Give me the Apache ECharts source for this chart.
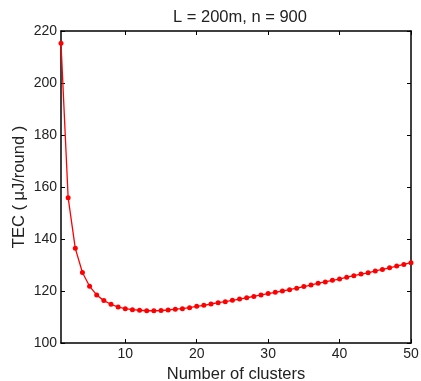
<!DOCTYPE html>
<html>
<head>
<meta charset="utf-8">
<script src="https://cdn.jsdelivr.net/npm/echarts@6/dist/echarts.min.js"></script>
<style>
  html, body { margin: 0; padding: 0; background: #fff; }
  #chart { width: 421px; height: 381px; }
</style>
</head>
<body>
<div id="chart"></div>
<script>
// number of clusters 1..50
const clusters = [1,2,3,4,5,6,7,8,9,10,11,12,13,14,15,16,17,18,19,20,21,22,23,24,25,
  26,27,28,29,30,31,32,33,34,35,36,37,38,39,40,41,42,43,44,45,46,47,48,49,50];
// TEC values (uJ/round)
const tec = [215.3,155.9,136.4,127.1,121.8,118.5,116.3,114.9,113.8,113.2,
  112.8,112.6,112.4,112.4,112.5,112.7,113.0,113.2,113.6,114.1,
  114.5,115.0,115.5,115.9,116.4,116.9,117.4,117.9,118.5,119.0,
  119.5,120.0,120.5,121.1,121.7,122.3,123.0,123.5,124.1,124.6,
  125.3,125.9,126.5,127.0,127.7,128.3,128.9,129.6,130.2,130.9];
const xTicks = [10, 20, 30, 40, 50];
const yTicks = [100, 120, 140, 160, 180, 200, 220];

const chart = echarts.init(document.getElementById('chart'));
const font = 'Liberation Sans, Arial, sans-serif';
const ink = '#222';

const baseX = {
  type: 'value', min: 1, max: 50,
  axisLine: { show: true, onZero: false, lineStyle: { color: '#000', width: 1.5 } },
  axisTick: { show: true, inside: true, length: 4, customValues: xTicks, lineStyle: { color: '#000' } },
  splitLine: { show: false }
};
const baseY = {
  type: 'value', min: 100, max: 220,
  axisLine: { show: true, onZero: false, lineStyle: { color: '#000', width: 1.5 } },
  axisTick: { show: true, inside: true, length: 4, customValues: yTicks, lineStyle: { color: '#000' } },
  splitLine: { show: false }
};

chart.setOption({
  animation: false,
  backgroundColor: '#fff',
  title: {
    text: 'L = 200m, n = 900',
    left: 235, top: 4, textAlign: 'center',
    textStyle: { fontFamily: font, fontSize: 16.5, fontWeight: 'normal', color: ink }
  },
  grid: { left: 61, right: 10, top: 31, bottom: 38, outerBoundsMode: 'none' },
  xAxis: [
    Object.assign({}, baseX, {
      position: 'bottom',
      name: 'Number of clusters', nameLocation: 'middle', nameGap: 21,
      nameTextStyle: { fontFamily: font, fontSize: 16.5, color: ink },
      axisLabel: { customValues: xTicks, fontFamily: font, fontSize: 14, color: ink, margin: 4 }
    }),
    Object.assign({}, baseX, { position: 'top', axisLabel: { show: false } })
  ],
  yAxis: [
    Object.assign({}, baseY, {
      position: 'left',
      name: 'TEC ( \u03bcJ/round )', nameLocation: 'middle', nameGap: 33,
      nameMoveOverlap: false,
      nameTextStyle: { fontFamily: font, fontSize: 16.5, color: ink },
      axisLabel: { customValues: yTicks, fontFamily: font, fontSize: 14, color: ink, margin: 4 }
    }),
    Object.assign({}, baseY, { position: 'right', axisLabel: { show: false } })
  ],
  series: [{
    type: 'line',
    data: clusters.map((c, i) => [c, tec[i]]),
    symbol: 'circle', symbolSize: 5,
    lineStyle: { color: '#ff0000', width: 1.3 },
    itemStyle: { color: '#ff0000' }
  }]
});
</script>
</body>
</html>
